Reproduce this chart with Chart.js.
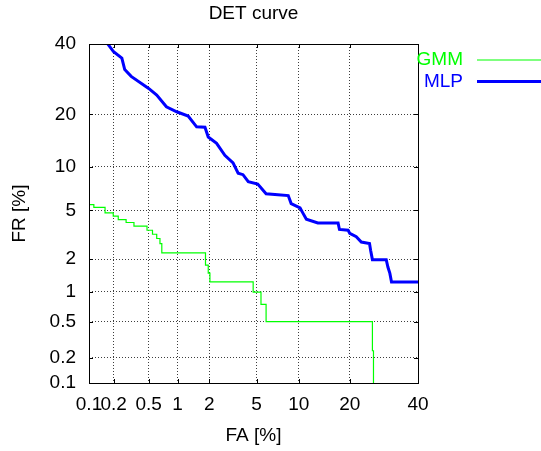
<!DOCTYPE html>
<html>
<head>
<meta charset="utf-8">
<title>DET curve</title>
<script src="https://cdn.jsdelivr.net/npm/chart.js@4"></script>
<style>
  html, body { margin: 0; padding: 0; background: #fff; }
  #wrap { width: 541px; height: 451px; }
</style>
</head>
<body>
<div id="wrap"><canvas id="det-chart" width="541" height="451"></canvas></div>
<script>
// Tick positions (percent) shared by both axes
const tickPercents = [0.1, 0.2, 0.5, 1, 2, 5, 10, 20, 40];
const tickLabels = ['0.1', '0.2', '0.5', '1', '2', '5', '10', '20', '40'];

// GMM: false alarm % / false reject % (step curve)
const gmmFA = [0.1, 0.115, 0.115, 0.158, 0.158, 0.198, 0.198, 0.227, 0.227, 0.28, 0.28, 0.344, 0.344, 0.48, 0.48, 0.55, 0.55, 0.61, 0.61, 0.66, 0.66, 0.69, 0.69, 1.85, 1.85, 1.96, 1.96, 2.03, 2.03, 4.7, 4.7, 5.4, 5.4, 5.9, 5.9, 25.9, 25.9, 26.2, 26.2];
const gmmFR = [5.5, 5.5, 5.25, 5.25, 4.78, 4.78, 4.51, 4.51, 4.25, 4.25, 4.03, 4.03, 3.77, 3.77, 3.5, 3.5, 3.25, 3.25, 3.0, 3.0, 2.72, 2.72, 2.27, 2.27, 1.77, 1.77, 1.5, 1.5, 1.24, 1.24, 0.99, 0.99, 0.75, 0.75, 0.5, 0.5, 0.24, 0.24, 0.09];

// MLP
const mlpFA = [0.16, 0.2, 0.25, 0.27, 0.32, 0.5, 0.61, 0.77, 0.98, 1.27, 1.53, 1.83, 1.96, 2.33, 2.75, 3.23, 3.56, 3.9, 4.3, 5.1, 5.9, 7.2, 8.5, 8.9, 10.2, 10.6, 11.2, 13.2, 17.3, 17.6, 19.6, 20.0, 21.6, 22.9, 25.1, 25.4, 25.9, 29.9, 30.4, 31.0, 31.5, 40];
const mlpFR = [41, 37.5, 35.5, 32, 30, 26.6, 24.8, 21.8, 20.6, 19.6, 17.2, 17.1, 15.1, 13.9, 11.8, 10.6, 9.1, 8.9, 8.0, 7.7, 6.6, 6.5, 6.4, 5.6, 5.2, 4.8, 4.27, 4.0, 4.0, 3.55, 3.5, 3.3, 3.1, 2.8, 2.72, 2.39, 1.98, 1.98, 1.7, 1.49, 1.24, 1.24];

// inverse normal CDF (Acklam)
function probit(p) {
  const a = [-39.69683028665376, 220.9460984245205, -275.9285104469687, 138.3577518672690, -30.66479806614716, 2.506628277459239];
  const b = [-54.47609879822406, 161.5858368580409, -155.6989798598866, 66.80131188771972, -13.28068155288572];
  const c = [-0.007784894002430293, -0.3223964580411365, -2.400758277161838, -2.549732539343734, 4.374664141464968, 2.938163982698783];
  const d = [0.007784695709041462, 0.3224671290700398, 2.445134137142996, 3.754408661907416];
  const pl = 0.02425;
  let q, r;
  if (p < pl) {
    q = Math.sqrt(-2 * Math.log(p));
    return (((((c[0] * q + c[1]) * q + c[2]) * q + c[3]) * q + c[4]) * q + c[5]) /
      ((((d[0] * q + d[1]) * q + d[2]) * q + d[3]) * q + 1);
  }
  if (p <= 1 - pl) {
    q = p - 0.5; r = q * q;
    return (((((a[0] * r + a[1]) * r + a[2]) * r + a[3]) * r + a[4]) * r + a[5]) * q /
      (((((b[0] * r + b[1]) * r + b[2]) * r + b[3]) * r + b[4]) * r + 1);
  }
  q = Math.sqrt(-2 * Math.log(1 - p));
  return -(((((c[0] * q + c[1]) * q + c[2]) * q + c[3]) * q + c[4]) * q + c[5]) /
    ((((d[0] * q + d[1]) * q + d[2]) * q + d[3]) * q + 1);
}

const dev = (pct) => probit(pct / 100);
const toPoints = (fa, fr) => fa.map((v, i) => ({ x: dev(v), y: dev(fr[i]) }));

const FONT = 'Liberation Sans, Arial, Helvetica, sans-serif';
const GRID = 'rgba(40,40,40,0.9)';

function setTicks(axis) {
  axis.ticks = tickPercents.map((p) => ({ value: dev(p) }));
}

// plot border, inward tick marks, title and gnuplot-style key
const boxPlugin = {
  id: 'box',
  afterDraw(chart) {
    const { ctx, chartArea: a, scales } = chart;
    ctx.save();
    ctx.strokeStyle = '#000';
    ctx.lineWidth = 1;
    ctx.setLineDash([]);
    ctx.strokeRect(Math.round(a.left) + 0.5, Math.round(a.top) + 0.5,
      Math.round(a.right - a.left), Math.round(a.bottom - a.top));
    ctx.beginPath();
    tickPercents.forEach((p) => {
      const x = Math.round(scales.x.getPixelForValue(dev(p))) + 0.5;
      const y = Math.round(scales.y.getPixelForValue(dev(p))) + 0.5;
      ctx.moveTo(x, a.bottom); ctx.lineTo(x, a.bottom - 4);
      ctx.moveTo(x, a.top); ctx.lineTo(x, a.top + 4);
      ctx.moveTo(a.left, y); ctx.lineTo(a.left + 4, y);
      ctx.moveTo(a.right, y); ctx.lineTo(a.right - 4, y);
    });
    ctx.stroke();

    ctx.font = '19px ' + FONT;
    ctx.fillStyle = '#000';
    ctx.textAlign = 'center';
    ctx.textBaseline = 'middle';
    ctx.fillText('DET curve', (a.left + a.right) / 2, 14);

    ctx.textAlign = 'right';
    chart.data.datasets.forEach((ds, i) => {
      const y = 60 + i * 21.5;
      ctx.fillStyle = ds.borderColor;
      ctx.fillText(ds.label, 463, y);
      ctx.strokeStyle = ds.borderColor;
      ctx.lineWidth = ds.borderWidth;
      ctx.beginPath();
      ctx.moveTo(477, y);
      ctx.lineTo(541, y);
      ctx.stroke();
    });
    ctx.restore();
  },
};

new Chart(document.getElementById('det-chart'), {
  type: 'scatter',
  data: {
    datasets: [
      {
        label: 'GMM',
        data: toPoints(gmmFA, gmmFR),
        showLine: true,
        borderColor: '#00ff00',
        borderWidth: 1.2,
        pointRadius: 0,
        tension: 0,
      },
      {
        label: 'MLP',
        data: toPoints(mlpFA, mlpFR),
        showLine: true,
        borderColor: '#0000ff',
        borderWidth: 3,
        pointRadius: 0,
        tension: 0,
      },
    ],
  },
  options: {
    responsive: false,
    animation: false,
    layout: { padding: { left: 0, right: 123, top: 44, bottom: 0 } },
    plugins: {
      legend: { display: false },
      tooltip: { enabled: false },
    },
    scales: {
      x: {
        type: 'linear',
        min: dev(0.1),
        max: dev(40),
        afterBuildTicks: setTicks,
        afterFit(s) { s.height = 68; },
        border: { display: false, dash: [1, 2] },
        grid: { color: GRID, drawTicks: false },
        ticks: {
          autoSkip: false,
          maxRotation: 0,
          minRotation: 0,
          padding: 10,
          color: '#000',
          font: { family: FONT, size: 19 },
          callback: (v, i) => tickLabels[i],
        },
        title: {
          display: true,
          text: 'FA [%]',
          color: '#000',
          font: { family: FONT, size: 19 },
          padding: { top: 0, bottom: 4 },
        },
      },
      y: {
        type: 'linear',
        min: dev(0.1),
        max: dev(40),
        afterBuildTicks: setTicks,
        afterFit(s) { s.width = 89; },
        border: { display: false, dash: [1, 2] },
        grid: { color: GRID, drawTicks: false },
        ticks: {
          autoSkip: false,
          padding: 13,
          color: '#000',
          font: { family: FONT, size: 19 },
          callback: (v, i) => tickLabels[i],
        },
        title: {
          display: true,
          text: 'FR [%]',
          color: '#000',
          font: { family: FONT, size: 19 },
          padding: { top: 8, bottom: 0 },
        },
      },
    },
  },
  plugins: [boxPlugin],
});
</script>
</body>
</html>
